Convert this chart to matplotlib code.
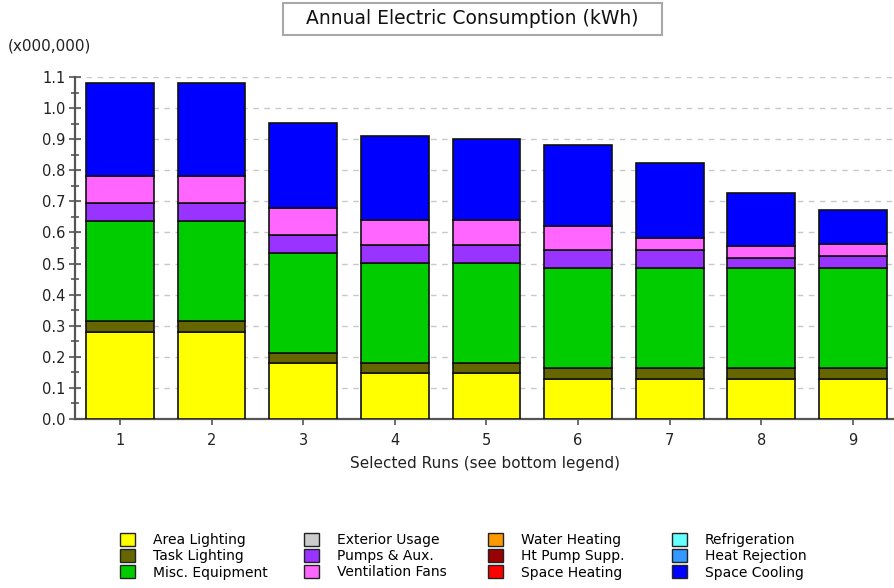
"""
Annual electric consumption by end use, stacked per selected run.
"""

import matplotlib
matplotlib.use("Agg")
import matplotlib.pyplot as plt
import matplotlib.ticker as mticker
from matplotlib.patches import Patch, Rectangle
import numpy as np


runs = ["1", "2", "3", "4", "5", "6", "7", "8", "9"]

# end uses, bottom to top of the stack (values in millions of kWh)
area_lighting = [0.281, 0.281, 0.179, 0.147, 0.147, 0.130, 0.130, 0.130, 0.130]
task_lighting = [0.033, 0.033, 0.033, 0.033, 0.033, 0.034, 0.034, 0.034, 0.034]
misc_equipment = [0.323, 0.323, 0.322, 0.322, 0.322, 0.321, 0.321, 0.321, 0.321]
exterior_usage = [0, 0, 0, 0, 0, 0, 0, 0, 0]
pumps_aux = [0.058, 0.058, 0.058, 0.058, 0.058, 0.058, 0.058, 0.032, 0.040]
ventilation_fans = [0.088, 0.088, 0.086, 0.080, 0.080, 0.079, 0.039, 0.040, 0.038]
water_heating = [0, 0, 0, 0, 0, 0, 0, 0, 0]
ht_pump_supp = [0, 0, 0, 0, 0, 0, 0, 0, 0]
space_heating = [0, 0, 0, 0, 0, 0, 0, 0, 0]
refrigeration = [0, 0, 0, 0, 0, 0, 0, 0, 0]
heat_rejection = [0, 0, 0, 0, 0, 0, 0, 0, 0]
space_cooling = [0.299, 0.299, 0.273, 0.269, 0.261, 0.258, 0.241, 0.169, 0.109]

SERIES = [
    ("Area Lighting", area_lighting, "#FFFF00"),
    ("Task Lighting", task_lighting, "#666600"),
    ("Misc. Equipment", misc_equipment, "#00CC00"),
    ("Exterior Usage", exterior_usage, "#CCCCCC"),
    ("Pumps & Aux.", pumps_aux, "#9933FF"),
    ("Ventilation Fans", ventilation_fans, "#FF66FF"),
    ("Water Heating", water_heating, "#FF9900"),
    ("Ht Pump Supp.", ht_pump_supp, "#990000"),
    ("Space Heating", space_heating, "#FF0000"),
    ("Refrigeration", refrigeration, "#66FFFF"),
    ("Heat Rejection", heat_rejection, "#3399FF"),
    ("Space Cooling", space_cooling, "#0000FF"),
]

AXIS_GRAY = "#555555"
TEXT = "#222222"
W, H = 895, 588

plt.rcParams["font.family"] = "DejaVu Sans"

fig = plt.figure(figsize=(W / 100, H / 100), dpi=100)
fig.patch.set_facecolor("white")
ax = fig.add_axes([0.0841, 0.2874, 0.9159, 0.5816])

x = np.arange(1, len(runs) + 1)
bottom = np.zeros(len(runs))
for name, vals, color in SERIES:
    vals = np.array(vals, dtype=float)
    if vals.sum() == 0:
        continue
    ax.bar(x, vals, 0.74, bottom=bottom, color=color, edgecolor="#111111",
           linewidth=1.2, zorder=3)
    bottom += vals

ax.set_xlim(0.512, 9.46)
ax.set_ylim(0, 1.1)
ax.set_xticks(x)
ax.set_xticklabels(runs, fontsize=10.5, color=TEXT)
ax.yaxis.set_major_locator(mticker.MultipleLocator(0.1))
ax.yaxis.set_minor_locator(mticker.MultipleLocator(0.05))
ax.yaxis.set_major_formatter(mticker.FormatStrFormatter("%.1f"))
ax.tick_params(axis="y", which="major", direction="inout", length=8,
               width=1.2, color=AXIS_GRAY, labelsize=10.5, labelcolor=TEXT, pad=3)
ax.tick_params(axis="y", which="minor", direction="inout", length=6,
               width=1.2, color=AXIS_GRAY)
ax.tick_params(axis="x", direction="out", length=4, width=1.2, color=AXIS_GRAY, pad=6)

for side in ("top", "right"):
    ax.spines[side].set_visible(False)
for side in ("left", "bottom"):
    ax.spines[side].set_color(AXIS_GRAY)
    ax.spines[side].set_linewidth(1.6)

ax.grid(axis="y", color="#C8C8C8", linestyle=(0, (4, 4)), linewidth=1.0, zorder=0)
ax.set_axisbelow(True)

ax.set_xlabel("Selected Runs (see bottom legend)", fontsize=11, color=TEXT, labelpad=6)

fig.text(8 / W, 1 - 46 / H, "(x000,000)", fontsize=11, color=TEXT,
         ha="left", va="center")

# title in a framed box
fig.patches.append(Rectangle((283 / W, 1 - 35 / H), 379 / W, 32 / H,
                             transform=fig.transFigure, facecolor="white",
                             edgecolor="#A8A8A8", linewidth=1.5))
fig.text(472 / W, 1 - 19 / H, "Annual Electric Consumption (kWh)", fontsize=13.5,
         color="#111111", ha="center", va="center")

# legend: four columns of three entries, evenly pitched like the original
for col in range(4):
    handles = [Patch(facecolor=c, edgecolor="#222222", linewidth=1.0, label=n)
               for n, _, c in SERIES[col * 3:col * 3 + 3]]
    fig.legend(handles=handles, loc="upper left",
               bbox_to_anchor=((120 + 184 * col) / W, 1 - 533 / H),
               frameon=False, fontsize=10, borderpad=0, borderaxespad=0,
               handlelength=1.05, handleheight=1.1, handletextpad=1.3,
               labelspacing=0.12)

fig.savefig("out.png", dpi=100, facecolor="white")
